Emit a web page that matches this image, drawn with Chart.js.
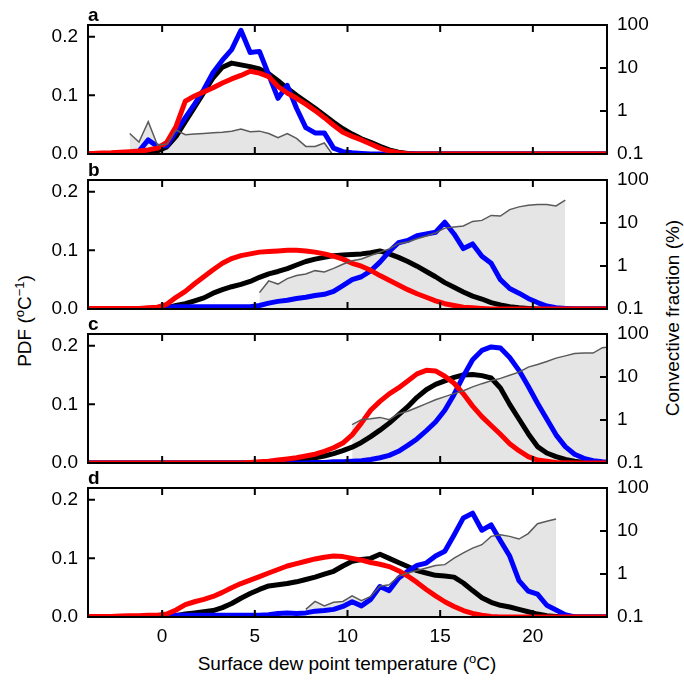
<!DOCTYPE html>
<html><head><meta charset="utf-8">
<script src="https://cdn.jsdelivr.net/npm/chart.js@4.4.1/dist/chart.umd.min.js"></script>
<style>
html,body{margin:0;padding:0;background:#fff;}
#wrap{position:relative;width:684px;height:681px;overflow:hidden;font-family:'Liberation Sans',Arial,sans-serif;color:#000;}
canvas{position:absolute;left:0;}
.lbl{position:absolute;font-weight:bold;font-size:19px;line-height:19px;}
.ttl{position:absolute;font-size:19px;line-height:22px;white-space:nowrap;transform:translate(-50%,-50%);}
.rot{transform:translate(-50%,-50%) rotate(-90deg);}
sup{font-size:13px;line-height:0;vertical-align:7px;}
</style></head>
<body><div id="wrap">
<div class="ttl rot" style="left:25px;top:321px;">PDF (<sup>o</sup>C<sup>−1</sup>)</div>
<div class="ttl rot" style="left:673px;top:318px;">Convective fraction (%)</div>
<div class="ttl" style="left:347px;top:664px;">Surface dew point temperature (<sup>o</sup>C)</div>
</div>
<script>
// ---- data ----
const temps = [-4.25,-3.75,-3.25,-2.75,-2.25,-1.75,-1.25,-0.75,-0.25,
 0.25,0.75,1.25,1.75,2.25,2.75,3.25,3.75,4.25,4.75,
 5.25,5.75,6.25,6.75,7.25,7.75,8.25,8.75,9.25,9.75,
 10.25,10.75,11.25,11.75,12.25,12.75,13.25,13.75,14.25,14.75,
 15.25,15.75,16.25,16.75,17.25,17.75,18.25,18.75,19.25,19.75,
 20.25,20.75,21.25,21.75,22.25,22.75,23.25,23.75,24.25];

const xTickValues = [0,5,10,15,20];
const pdfTickValues = [0,0.1,0.2];
const fracTickValues = [0.1,1,10,100];
const panelLetters = ['a','b','c','d'];

// panel a
const pdfBlackA = [0,0,0,0,0,0,0.001,0.002,0.005,
 0.012,0.03,0.055,0.08,0.105,0.13,0.148,0.155,0.152,0.149,
 0.145,0.137,0.125,0.112,0.1,0.089,0.078,0.066,0.054,0.043,
 0.034,0.026,0.02,0.013,0.007,0.003,0.001,0,0,0,
 0,0,0,0,0,0,0,0,0,0,
 0,0,0,0,0,0,0,0,0];
const pdfRedA = [0.001,0.001,0.0015,0.002,0.003,0.004,0.005,0.007,0.01,
 0.02,0.047,0.09,0.099,0.106,0.113,0.121,0.128,0.134,0.141,
 0.138,0.132,0.115,0.104,0.095,0.085,0.074,0.062,0.049,0.037,
 0.03,0.024,0.017,0.01,0.005,0.002,0.0005,0,0,0,
 0,0,0,0,0,0,0,0,0,0,
 0,0,0,0,0,0,0,0,0];
const pdfBlueA = [0,0,0,0,0,0,0.005,0.024,0.013,
 0.014,0.038,0.062,0.085,0.11,0.139,0.16,0.178,0.211,0.173,
 0.175,0.135,0.095,0.117,0.078,0.045,0.036,0.036,0.01,0.004,
 0.002,0.001,0,0,0,0,0,0,0,0,
 0,0,0,0,0,0,0,0,0,0,
 0,0,0,0,0,0,0,0,0];
const convFracA = [null,null,null,null,null,0.3,0.19,0.565,0.16,
 0.17,0.36,0.28,0.29,0.3,0.31,0.32,0.34,0.38,0.33,
 0.34,0.3,0.24,0.3,0.23,0.15,0.15,0.18,0.09,null,
 null,null,null,null,null,null,null,null,null,null,
 null,null,null,null,null,null,null,null,null,null,
 null,null,null,null,null,null,null,null,null];

// panel b
const pdfBlackB = [0,0,0,0,0,0,0,0,0,
 0.002,0.006,0.009,0.014,0.019,0.027,0.033,0.038,0.042,0.047,
 0.054,0.06,0.064,0.069,0.075,0.081,0.085,0.088,0.091,0.092,
 0.093,0.094,0.096,0.099,0.094,0.088,0.081,0.073,0.064,0.055,
 0.045,0.037,0.029,0.022,0.017,0.011,0.007,0.004,0.002,0.001,
 0,0,0,0,0,0,0,0,0];
const pdfRedB = [0.001,0.001,0.001,0.001,0.001,0.001,0.001,0.002,0.003,
 0.008,0.02,0.03,0.043,0.055,0.067,0.078,0.086,0.091,0.094,
 0.097,0.098,0.099,0.1,0.1,0.099,0.097,0.094,0.09,0.085,
 0.078,0.073,0.066,0.057,0.049,0.041,0.033,0.026,0.02,0.014,
 0.009,0.006,0.003,0.002,0.001,0,0,0,0,0,
 0,0,0,0,0,0,0,0,0];
const pdfBlueB = [0,0,0,0,0,0,0,0,0.001,
 0.003,0.004,0.004,0.004,0.004,0.004,0.004,0.004,0.004,0.004,
 0.006,0.01,0.013,0.015,0.018,0.02,0.023,0.025,0.03,0.04,
 0.05,0.055,0.065,0.08,0.098,0.113,0.117,0.125,0.128,0.131,
 0.148,0.128,0.103,0.111,0.09,0.078,0.05,0.035,0.027,0.018,
 0.011,0.005,0.002,0.001,0,0,0,0,0];
const convFracB = [null,null,null,null,null,null,null,null,null,
 null,null,null,null,null,null,null,null,null,null,
 0.24,0.45,0.38,0.51,0.6,0.65,0.78,0.73,0.88,1.1,
 1.33,1.46,1.75,2.1,2.5,3.3,3.6,4.3,5.0,5.9,
 7.6,8.1,8.5,10.9,11.5,15,14.5,20.5,23.7,26,
 27,27,25,34,null,null,null,null,null];

// panel c
const pdfBlackC = [0,0,0,0,0,0,0,0,0,
 0,0,0,0,0,0,0,0,0,0,
 0.001,0.001,0.002,0.003,0.005,0.007,0.009,0.012,0.016,0.021,
 0.027,0.035,0.045,0.056,0.068,0.082,0.096,0.112,0.125,0.134,
 0.14,0.146,0.15,0.151,0.149,0.145,0.128,0.1,0.075,0.05,
 0.028,0.017,0.011,0.006,0.003,0.001,0,0,0];
const pdfRedC = [0,0,0,0,0,0,0,0,0,
 0,0,0,0,0,0,0,0,0,0.001,
 0.002,0.003,0.005,0.007,0.009,0.012,0.015,0.02,0.026,0.034,
 0.048,0.068,0.09,0.105,0.118,0.128,0.14,0.152,0.158,0.157,
 0.148,0.136,0.118,0.097,0.079,0.064,0.049,0.033,0.021,0.011,
 0.005,0.003,0.001,0.0005,0,0,0,0,0];
const pdfBlueC = [0,0,0,0,0,0,0,0,0,
 0,0,0,0,0,0,0,0,0,0,
 0,0,0,0,0,0,0.001,0.001,0.002,0.002,
 0.003,0.004,0.006,0.009,0.013,0.02,0.03,0.041,0.055,0.07,
 0.09,0.117,0.148,0.176,0.192,0.198,0.196,0.18,0.158,0.131,
 0.102,0.075,0.048,0.028,0.015,0.008,0.004,0.002,0.001];
const convFracC = [null,null,null,null,null,null,null,null,null,
 null,null,null,null,null,null,null,null,null,null,
 null,null,null,null,null,null,null,null,null,null,
 0.78,1.02,1.07,1.15,1.02,1.4,1.6,1.95,2.4,2.95,
 3.5,4.1,4.8,5.9,7.0,8.2,9.3,11,13,17,
 19.5,23,27.5,31,35,36,36,48,50];

// panel d
const pdfBlackD = [0,0,0,0,0,0,0,0,0,
 0.001,0.002,0.005,0.007,0.009,0.011,0.016,0.023,0.032,0.04,
 0.047,0.053,0.055,0.057,0.06,0.064,0.068,0.073,0.078,0.087,
 0.095,0.098,0.1,0.107,0.1,0.093,0.086,0.079,0.075,0.071,
 0.07,0.068,0.058,0.045,0.033,0.025,0.02,0.017,0.013,0.009,
 0.005,0.002,0.001,0,0,0,0,0,0];
const pdfRedD = [0.0005,0.001,0.001,0.001,0.0015,0.002,0.002,0.003,0.003,
 0.005,0.012,0.021,0.026,0.03,0.035,0.042,0.05,0.057,0.063,
 0.069,0.075,0.081,0.087,0.091,0.095,0.099,0.102,0.104,0.103,
 0.1,0.097,0.093,0.09,0.086,0.079,0.07,0.059,0.047,0.036,
 0.026,0.018,0.011,0.006,0.003,0.001,0,0,0,0,
 0,0,0,0,0,0,0,0,0];
const pdfBlueD = [0,0,0,0,0,0,0,0,0,
 0.001,0.003,0.003,0.003,0.003,0.003,0.003,0.003,0.003,0.003,
 0.003,0.004,0.006,0.007,0.006,0.007,0.01,0.011,0.013,0.018,
 0.026,0.019,0.03,0.052,0.045,0.066,0.078,0.088,0.092,0.104,
 0.112,0.14,0.169,0.177,0.148,0.157,0.13,0.104,0.062,0.044,
 0.039,0.02,0.012,0.004,0,0,0,0,0];
const convFracD = [null,null,null,null,null,null,null,null,null,
 null,null,null,null,null,null,null,null,null,null,
 null,null,null,null,null,0.15,0.23,0.18,0.22,0.23,
 0.31,0.24,0.3,0.52,0.56,0.88,1.05,1.2,1.38,1.57,
 1.65,2.35,3.1,4.0,4.8,7.5,8.2,7.5,6.5,8.7,
 14.8,16.8,19,null,null,null,null,null,null];

// ---- rendering ----
Chart.defaults.font.family = "'Liberation Sans', Arial, sans-serif";
Chart.defaults.font.size = 19;
Chart.defaults.color = '#000';

const panels = [
  {black: pdfBlackA, red: pdfRedA, blue: pdfBlueA, frac: convFracA},
  {black: pdfBlackB, red: pdfRedB, blue: pdfBlueB, frac: convFracB},
  {black: pdfBlackC, red: pdfRedC, blue: pdfBlueC, frac: convFracC},
  {black: pdfBlackD, red: pdfRedD, blue: pdfBlueD, frac: convFracD}
];
const frameTops = [25, 180, 334, 488];
const plotH = 129, padTop = 25;

const pts = arr => temps.map((t, i) => ({x: t, y: arr[i]}));

const framePlugin = {
  id: 'frame',
  afterDatasetsDraw(chart) {
    const {ctx, chartArea: a, scales} = chart;
    ctx.save();
    ctx.strokeStyle = '#000';
    ctx.lineWidth = 2;
    ctx.beginPath();
    xTickValues.forEach(v => {
      const p = scales.x.getPixelForValue(v);
      ctx.moveTo(p, a.bottom); ctx.lineTo(p, a.bottom - 7);
      ctx.moveTo(p, a.top); ctx.lineTo(p, a.top + 7);
    });
    pdfTickValues.forEach(v => {
      const p = scales.y.getPixelForValue(v);
      ctx.moveTo(a.left, p); ctx.lineTo(a.left + 7, p);
    });
    fracTickValues.forEach(v => {
      const p = scales.y1.getPixelForValue(v);
      ctx.moveTo(a.right, p); ctx.lineTo(a.right - 7, p);
    });
    ctx.stroke();
    ctx.strokeRect(a.left, a.top, a.right - a.left, a.bottom - a.top);
    ctx.restore();
  }
};

const wrap = document.getElementById('wrap');
panels.forEach((p, i) => {
  const isLast = i === panels.length - 1;
  const bottomSpace = isLast ? 40 : 25;
  const cv = document.createElement('canvas');
  cv.width = 684;
  cv.height = padTop + plotH + bottomSpace;
  cv.style.top = (frameTops[i] - padTop) + 'px';
  wrap.appendChild(cv);

  const lbl = document.createElement('div');
  lbl.className = 'lbl';
  lbl.textContent = panelLetters[i];
  lbl.style.left = '88px';
  lbl.style.top = (frameTops[i] - 20) + 'px';
  wrap.appendChild(lbl);

  const lineDs = (arr, color, order) => ({
    data: pts(arr), yAxisID: 'y', borderColor: color, borderWidth: 5,
    fill: false, order: order, clip: 0, borderJoinStyle: 'round'
  });

  new Chart(cv, {
    type: 'line',
    data: {
      datasets: [
        {data: pts(p.frac), yAxisID: 'y1', borderColor: '#5a5a5a', borderWidth: 1.5,
         backgroundColor: '#e5e5e5', fill: 'start', order: 0, clip: 0},
        lineDs(p.red, '#ff0000', 1),
        lineDs(p.blue, '#0000ff', 2),
        lineDs(p.black, '#000000', 3)
      ]
    },
    options: {
      responsive: false,
      animation: false,
      devicePixelRatio: 1,
      layout: {padding: {top: padTop, bottom: isLast ? 0 : bottomSpace, left: 0, right: 0}},
      elements: {point: {radius: 0}, line: {tension: 0}},
      plugins: {legend: {display: false}, tooltip: {enabled: false},
                filler: {drawTime: 'beforeDatasetsDraw'}},
      scales: {
        x: {
          type: 'linear', min: -4, max: 24, display: isLast,
          grid: {display: false, drawTicks: false}, border: {display: false},
          ticks: {padding: 8, color: '#000', font: {size: 19}},
          afterBuildTicks: s => { s.ticks = xTickValues.map(v => ({value: v})); },
          afterFit: s => { if (isLast) s.height = bottomSpace; }
        },
        y: {
          type: 'linear', position: 'left', min: 0, max: 0.22,
          grid: {display: false, drawTicks: false}, border: {display: false},
          ticks: {padding: 10, color: '#000', font: {size: 19}, callback: v => Number(v).toFixed(1)},
          afterBuildTicks: s => { s.ticks = pdfTickValues.map(v => ({value: v})); },
          afterFit: s => { s.width = 88; }
        },
        y1: {
          type: 'logarithmic', position: 'right', min: 0.1, max: 100,
          grid: {display: false, drawTicks: false}, border: {display: false},
          ticks: {padding: 10, color: '#000', font: {size: 19}, callback: v => String(v)},
          afterBuildTicks: s => { s.ticks = fracTickValues.map(v => ({value: v})); },
          afterFit: s => { s.width = 77; }
        }
      }
    },
    plugins: [framePlugin]
  });
});
</script>
</body></html>
